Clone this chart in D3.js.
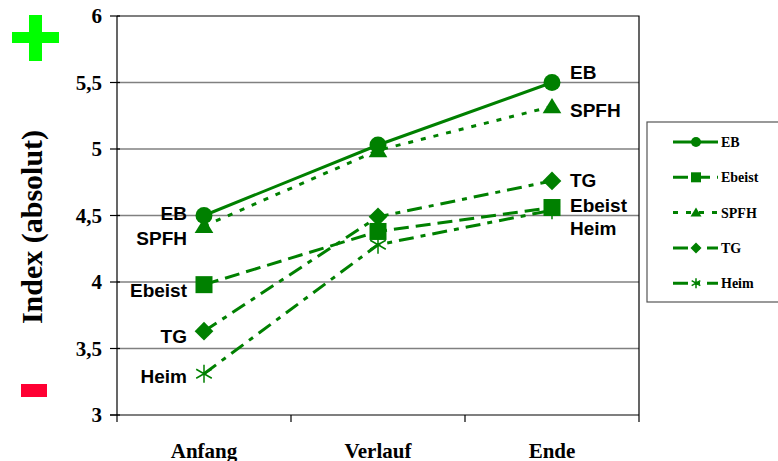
<!DOCTYPE html>
<html>
<head>
<meta charset="utf-8">
<script src="https://cdn.jsdelivr.net/npm/d3@7"></script>
<style>
  body{margin:0;background:#fff;}
  svg{display:block;}
</style>
</head>
<body>
<div id="chart"></div>
<script>
// Daten
var categories = ["Anfang", "Verlauf", "Ende"];
var seriesNames = ["EB", "Ebeist", "SPFH", "TG", "Heim"];
var valuesEB     = [4.50, 5.03, 5.50];
var valuesEbeist = [3.98, 4.38, 4.56];
var valuesSPFH   = [4.42, 4.99, 5.32];
var valuesTG     = [3.63, 4.49, 4.76];
var valuesHeim   = [3.31, 4.28, 4.54];
var yTicks = [3, 3.5, 4, 4.5, 5, 5.5, 6];

var width = 778, height = 461;
var plotLeft = 117, plotRight = 639, plotTop = 16, plotBottom = 415;
var green = "#008000";

// Stil pro Reihe (Linie, Marker, Labelversatz)
var styles = {
	"EB":     {dash: null,          marker: "circle",   dyStart: 4,  dyEnd: -4},
	"Ebeist": {dash: "15,7",        marker: "square",   dyStart: 12, dyEnd: 4},
	"SPFH":   {dash: "5,8",         marker: "triangle", dyStart: 19, dyEnd: 11},
	"TG":     {dash: "15,7,5,7",    marker: "diamond",  dyStart: 12, dyEnd: 6},
	"Heim":   {dash: "15,7,5,7",    marker: "star",     dyStart: 9,  dyEnd: 25}
};
var seriesValues = {"EB": valuesEB, "Ebeist": valuesEbeist, "SPFH": valuesSPFH, "TG": valuesTG, "Heim": valuesHeim};

var de = d3.formatLocale({decimal: ",", thousands: ".", grouping: [3], currency: ["", " €"]});
var fmt = de.format("~g");

var x = d3.scaleBand().domain(categories).range([plotLeft, plotRight]).padding(0);
var y = d3.scaleLinear().domain([3, 6]).range([plotBottom, plotTop]);
function cx(c){ return x(c) + x.bandwidth()/2; }

var svg = d3.select("#chart").append("svg")
	.attr("width", width)
	.attr("height", height);

// Plus / Minus
svg.append("rect").attr("x", 12).attr("y", 32).attr("width", 47).attr("height", 11).attr("fill", "#00ff00");
svg.append("rect").attr("x", 29).attr("y", 15).attr("width", 13).attr("height", 46).attr("fill", "#00ff00");
svg.append("rect").attr("x", 21).attr("y", 384).attr("width", 26).attr("height", 13).attr("fill", "#ff0033");

// Gitterlinien
svg.selectAll(".grid")
	.data(yTicks.filter(function(d){ return d > 3 && d < 6; }))
	.enter().append("line")
	.attr("x1", plotLeft).attr("x2", plotRight)
	.attr("y1", function(d){ return y(d); })
	.attr("y2", function(d){ return y(d); })
	.attr("stroke", "#808080")
	.attr("stroke-width", 1.5);

// Rahmen oben/rechts
svg.append("path")
	.attr("d", "M" + plotLeft + "," + plotTop + "H" + plotRight + "V" + plotBottom)
	.attr("fill", "none")
	.attr("stroke", "#000")
	.attr("stroke-width", 1.2);

// y-Achse
svg.append("line").attr("x1", plotLeft).attr("x2", plotLeft).attr("y1", plotTop).attr("y2", plotBottom)
	.attr("stroke", "#000").attr("stroke-width", 1.2);
svg.selectAll(".ytick")
	.data(yTicks)
	.enter().append("line")
	.attr("x1", plotLeft - 7).attr("x2", plotLeft + 3)
	.attr("y1", function(d){ return y(d); })
	.attr("y2", function(d){ return y(d); })
	.attr("stroke", "#000").attr("stroke-width", 1.2);
svg.selectAll(".ylab")
	.data(yTicks)
	.enter().append("text")
	.attr("x", plotLeft - 15)
	.attr("y", function(d){ return y(d) + 7; })
	.attr("text-anchor", "end")
	.style("font-family", "Liberation Serif, Times New Roman, serif")
	.style("font-weight", "bold")
	.style("font-size", "21px")
	.text(function(d){ return fmt(d); });

// x-Achse
svg.append("line").attr("x1", plotLeft - 7).attr("x2", plotRight).attr("y1", plotBottom).attr("y2", plotBottom)
	.attr("stroke", "#000").attr("stroke-width", 1.2);
svg.selectAll(".xtick")
	.data(categories.map(function(c){ return x(c); }).concat([plotRight]))
	.enter().append("line")
	.attr("x1", function(d){ return d; })
	.attr("x2", function(d){ return d; })
	.attr("y1", plotBottom).attr("y2", plotBottom + 7)
	.attr("stroke", "#000").attr("stroke-width", 1.2);
svg.selectAll(".xlab")
	.data(categories)
	.enter().append("text")
	.attr("x", function(d){ return cx(d); })
	.attr("y", 458)
	.attr("text-anchor", "middle")
	.style("font-family", "Liberation Serif, Times New Roman, serif")
	.style("font-weight", "bold")
	.style("font-size", "21px")
	.text(function(d){ return d; });

// Achsentitel
svg.append("text")
	.attr("transform", "translate(42,227) rotate(-90)")
	.attr("text-anchor", "middle")
	.style("font-family", "Liberation Serif, Times New Roman, serif")
	.style("font-weight", "bold")
	.style("font-size", "30px")
	.text("Index (absolut)");

// Marker
function drawMarker(g, type, px, py, s){
	if(type == "circle"){
		g.append("circle").attr("cx", px).attr("cy", py).attr("r", s).attr("fill", green);
	}
	else if(type == "square"){
		g.append("rect").attr("x", px - s).attr("y", py - s).attr("width", 2*s).attr("height", 2*s).attr("fill", green);
	}
	else if(type == "triangle"){
		g.append("path").attr("d", "M" + px + "," + (py - s) + "L" + (px + s*1.1) + "," + (py + s*0.8) + "L" + (px - s*1.1) + "," + (py + s*0.8) + "Z").attr("fill", green);
	}
	else if(type == "diamond"){
		g.append("path").attr("d", "M" + px + "," + (py - s*1.1) + "L" + (px + s*1.1) + "," + py + "L" + px + "," + (py + s*1.1) + "L" + (px - s*1.1) + "," + py + "Z").attr("fill", green);
	}
	else{
		var d = "";
		for(var a = 0; a < 3; a++){
			var ang = Math.PI/3*a + Math.PI/2;
			d += "M" + (px + Math.cos(ang)*s) + "," + (py + Math.sin(ang)*s) + "L" + (px - Math.cos(ang)*s) + "," + (py - Math.sin(ang)*s);
		}
		g.append("path").attr("d", d).attr("stroke", green).attr("stroke-width", 1.5).attr("fill", "none");
	}
}

var line = d3.line()
	.x(function(d){ return cx(d.c); })
	.y(function(d){ return y(d.v); });

var order = ["Heim", "TG", "Ebeist", "SPFH", "EB"];
order.forEach(function(name){
	var pts = categories.map(function(c, i){ return {c: c, v: seriesValues[name][i]}; });
	svg.append("path")
		.datum(pts)
		.attr("d", line)
		.attr("fill", "none")
		.attr("stroke", green)
		.attr("stroke-width", 3)
		.attr("stroke-dasharray", styles[name].dash);
});
order.forEach(function(name){
	var g = svg.append("g");
	categories.forEach(function(c, i){
		drawMarker(g, styles[name].marker, cx(c), y(seriesValues[name][i]), name == "Heim" ? 9 : 8.5);
	});
});

// Beschriftungen an den Punkten
seriesNames.forEach(function(name){
	var v = seriesValues[name];
	svg.append("text")
		.attr("x", cx(categories[0]) - 17)
		.attr("y", y(v[0]) + styles[name].dyStart)
		.attr("text-anchor", "end")
		.style("font-family", "Liberation Sans, Arial, sans-serif")
		.style("font-weight", "bold")
		.style("font-size", "19px")
		.text(name);
	svg.append("text")
		.attr("x", cx(categories[2]) + 18)
		.attr("y", y(v[2]) + styles[name].dyEnd)
		.attr("text-anchor", "start")
		.style("font-family", "Liberation Sans, Arial, sans-serif")
		.style("font-weight", "bold")
		.style("font-size", "19px")
		.text(name);
});

// Legende
var legend = svg.append("g");
legend.append("rect")
	.attr("x", 647).attr("y", 122)
	.attr("width", 140).attr("height", 180)
	.attr("fill", "#fff")
	.attr("stroke", "#555")
	.attr("stroke-width", 1.2);
seriesNames.forEach(function(name, i){
	var ly = 142 + i*35.3;
	legend.append("line")
		.attr("x1", 673).attr("x2", 718)
		.attr("y1", ly).attr("y2", ly)
		.attr("stroke", green)
		.attr("stroke-width", 3)
		.attr("stroke-dasharray", styles[name].dash);
	drawMarker(legend, styles[name].marker, 696, ly, 5);
	legend.append("text")
		.attr("x", 721)
		.attr("y", ly + 5)
		.style("font-family", "Liberation Serif, Times New Roman, serif")
		.style("font-weight", "bold")
		.style("font-size", "14px")
		.text(name);
});
</script>
</body>
</html>
